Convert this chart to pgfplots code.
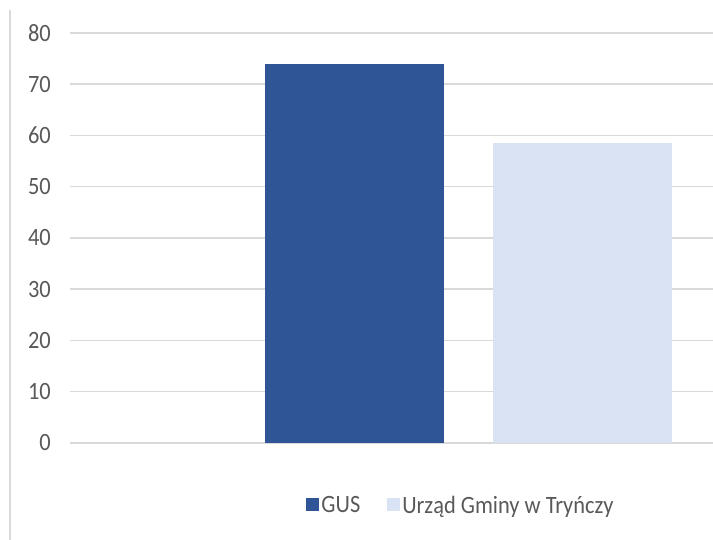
\documentclass[border=0pt]{standalone}
\usepackage{pgfplots}
\pgfplotsset{compat=1.18}
\usepackage{fontspec}
\setmainfont{Carlito}[FakeStretch=0.9]
\definecolor{gus}{HTML}{2F5597}
\definecolor{ug}{HTML}{DAE3F3}
\definecolor{gridc}{HTML}{D9D9D9}
\definecolor{txt}{HTML}{595959}
\begin{document}
\begin{tikzpicture}[x=1bp,y=1bp]
\path[use as bounding box] (0,0) rectangle (713,540);
\draw[gridc, line width=2bp] (10,0) -- (10,530);
\begin{axis}[
  at={(70bp,97bp)}, anchor=south west,
  scale only axis, width=643bp, height=410bp,
  xmin=70, xmax=713, ymin=0, ymax=80,
  ytick={0,10,...,80}, xtick=\empty,
  axis line style={draw=none},
  ymajorgrids, grid style={gridc, line width=1.5bp},
  major tick length=0pt,
  /pgf/number format/assume math mode=true,
  yticklabel style={font=\fontsize{25}{30}\selectfont, text=txt, inner sep=0pt, anchor=east, xshift=-19bp},
  ybar, bar width=179.5, bar shift=0pt,
  clip=false,
  legend style={draw=none, fill=none, at={(rel axis cs:0.608,-0.152)}, anchor=center,
    font=\fontsize{25}{30}\selectfont, text=txt, legend columns=2,
    /tikz/every even column/.append style={column sep=25bp}},
  legend image code/.code={\fill[#1] (-4bp,-6bp) rectangle (9bp,7bp);},
]
\addplot[fill=gus, draw=none] coordinates {(354.7,74)};
\addplot[fill=ug, draw=none] coordinates {(582.5,58.5)};
\legend{GUS, Urząd Gminy w Tryńczy}
\end{axis}
\end{tikzpicture}
\end{document}
